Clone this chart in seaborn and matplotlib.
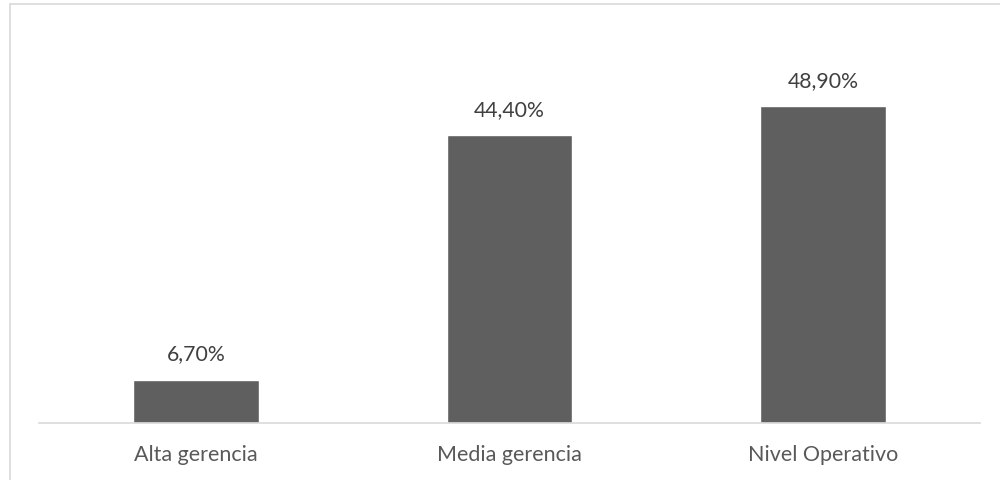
import matplotlib
matplotlib.use("Agg")
import matplotlib.pyplot as plt
import seaborn as sns
import pandas as pd
from matplotlib.lines import Line2D

categories = ["Alta gerencia", "Media gerencia", "Nivel Operativo"]
values = [6.7, 44.4, 48.9]

sns.set_theme(style="white")
plt.rcParams["font.family"] = ["Lato", "DejaVu Sans"]

df = pd.DataFrame({"cat": categories, "val": values})

fig = plt.figure(figsize=(10, 4.8), dpi=100)
ax = fig.add_axes([0.039, 57 / 480, 0.941, 389 / 480])
sns.barplot(data=df, x="cat", y="val", color="#5f5f5f", width=0.4, saturation=1, ax=ax)
ax.set_ylim(0, 60)
ax.set_xlim(-0.5, 2.5)

labels = [f"{v:.2f}".replace(".", ",") + "%" for v in values]
ax.bar_label(ax.containers[0], labels=labels, padding=11, fontsize=15.3, color="#404040")

for s in ["top", "right", "left"]:
    ax.spines[s].set_visible(False)
ax.spines["bottom"].set_color("#d9d9d9")
ax.spines["bottom"].set_linewidth(1.2)
ax.set_yticks([])
ax.set_xlabel("")
ax.set_ylabel("")
ax.tick_params(axis="x", length=0, pad=16, labelsize=15.5, labelcolor="#595959")

# outer chart border (top and left visible)
fig.add_artist(Line2D([10 / 1000, 1.01], [1 - 4 / 480, 1 - 4 / 480], transform=fig.transFigure, color="#d9d9d9", lw=1.2))
fig.add_artist(Line2D([10 / 1000, 10 / 1000], [-0.01, 1 - 4 / 480], transform=fig.transFigure, color="#d9d9d9", lw=1.2))

fig.savefig("out.png", dpi=100, facecolor="white")
